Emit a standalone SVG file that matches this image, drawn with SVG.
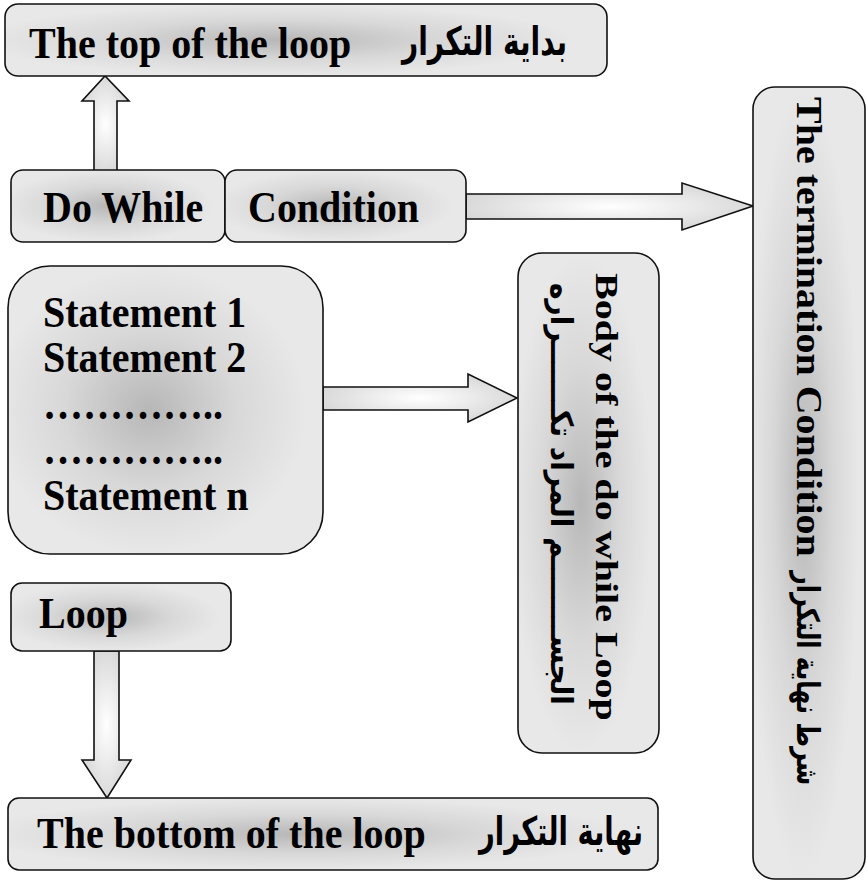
<svg xmlns="http://www.w3.org/2000/svg" width="867" height="882" viewBox="0 0 867 882">
  <style>
    .box { stroke: #111; stroke-width: 1.6; fill: url(#boxFill); }
    .arrow { stroke: #111; stroke-width: 1.6; fill: url(#arrowFill); stroke-linejoin: miter; }
    .lat { font-family: "Liberation Serif", "Times New Roman", serif; font-weight: bold; font-size: 40px; fill: #000; }
    .ar { font-family: "DejaVu Sans", "Noto Sans", sans-serif; font-weight: bold; font-size: 36px; fill: #000; }
  </style>
  <defs>
    <radialGradient id="boxFill" cx="0.45" cy="0.5" r="0.5">
      <stop offset="0" stop-color="#b7b7b7"/>
      <stop offset="0.55" stop-color="#d8d8d8"/>
      <stop offset="1" stop-color="#e8e8e8"/>
    </radialGradient>
    <radialGradient id="arrowFill" cx="0.5" cy="0.5" r="0.55">
      <stop offset="0" stop-color="#ffffff"/>
      <stop offset="1" stop-color="#d6d6d6"/>
    </radialGradient>
  </defs>

  <rect width="867" height="882" fill="#fff"/>

  <!-- connectors: block arrows -->
  <g id="connectors">
    <polygon class="arrow" points="94,172 94,101 82,101 105,76 129,101 117,101 117,172"/>
    <polygon class="arrow" points="466,194 682,194 682,183 753,206 682,230 682,219 466,219"/>
    <polygon class="arrow" points="323,387 468,387 468,374 517,398 468,422 468,410 323,410"/>
    <polygon class="arrow" points="94,651 94,760 82,760 107,798 131,760 119,760 119,651"/>
  </g>

  <g id="top">
    <rect class="box" x="5" y="4" width="602" height="72" rx="13"/>
    <text class="lat" transform="matrix(1,0,0,1.1,29,58)">The top of the loop</text>
    <text class="ar" transform="matrix(1,0,0,1.1,402,55)" textLength="165" lengthAdjust="spacingAndGlyphs">بداية التكرار</text>
  </g>

  <g id="dowhile">
    <rect class="box" x="11" y="170" width="214" height="72" rx="12"/>
    <text class="lat" transform="matrix(1,0,0,1.1,43,222)">Do While</text>
  </g>

  <g id="condition">
    <rect class="box" x="225" y="170" width="241" height="72" rx="12"/>
    <text class="lat" transform="matrix(1,0,0,1.1,248,222)">Condition</text>
  </g>

  <g id="termination">
    <rect class="box" x="753" y="87" width="112" height="792" rx="22"/>
    <text class="lat" transform="translate(797,97) rotate(90) scale(1,0.88)">The termination Condition</text>
    <text class="ar" style="font-size:31px" transform="translate(797,571) rotate(90) scale(0.77,1)">شرط نهاية التكرار</text>
  </g>

  <g id="statements">
    <rect class="box" x="8" y="266" width="315" height="288" rx="42"/>
    <text class="lat" transform="matrix(1,0,0,1.1,43,327)">Statement 1</text>
    <text class="lat" transform="matrix(1,0,0,1.1,43,372)">Statement 2</text>
    <text class="lat" transform="matrix(1,0,0,1.1,43,419)">…………..</text>
    <text class="lat" transform="matrix(1,0,0,1.1,43,464)">…………..</text>
    <text class="lat" transform="matrix(1,0,0,1.1,43,510)">Statement n</text>
  </g>

  <g id="body">
    <rect class="box" x="518" y="253" width="141" height="500" rx="24"/>
    <text class="lat" transform="translate(596,273) rotate(90) scale(1,0.8)">Body of the do while Loop</text>
    <text class="ar" transform="translate(551,283) rotate(90) scale(1,0.85)" textLength="422" lengthAdjust="spacingAndGlyphs">الجســــــــم المراد تكـــــــراره</text>
  </g>

  <g id="loop">
    <rect class="box" x="11" y="583" width="220" height="68" rx="11"/>
    <text class="lat" transform="matrix(1,0,0,1.1,39,628)">Loop</text>
  </g>

  <g id="bottom">
    <rect class="box" x="8" y="798" width="650" height="72" rx="11"/>
    <text class="lat" transform="matrix(1,0,0,1.1,37,848)">The bottom of the loop</text>
    <text class="ar" transform="matrix(1,0,0,1.1,479,845)" textLength="164" lengthAdjust="spacingAndGlyphs">نهاية التكرار</text>
  </g>
</svg>
